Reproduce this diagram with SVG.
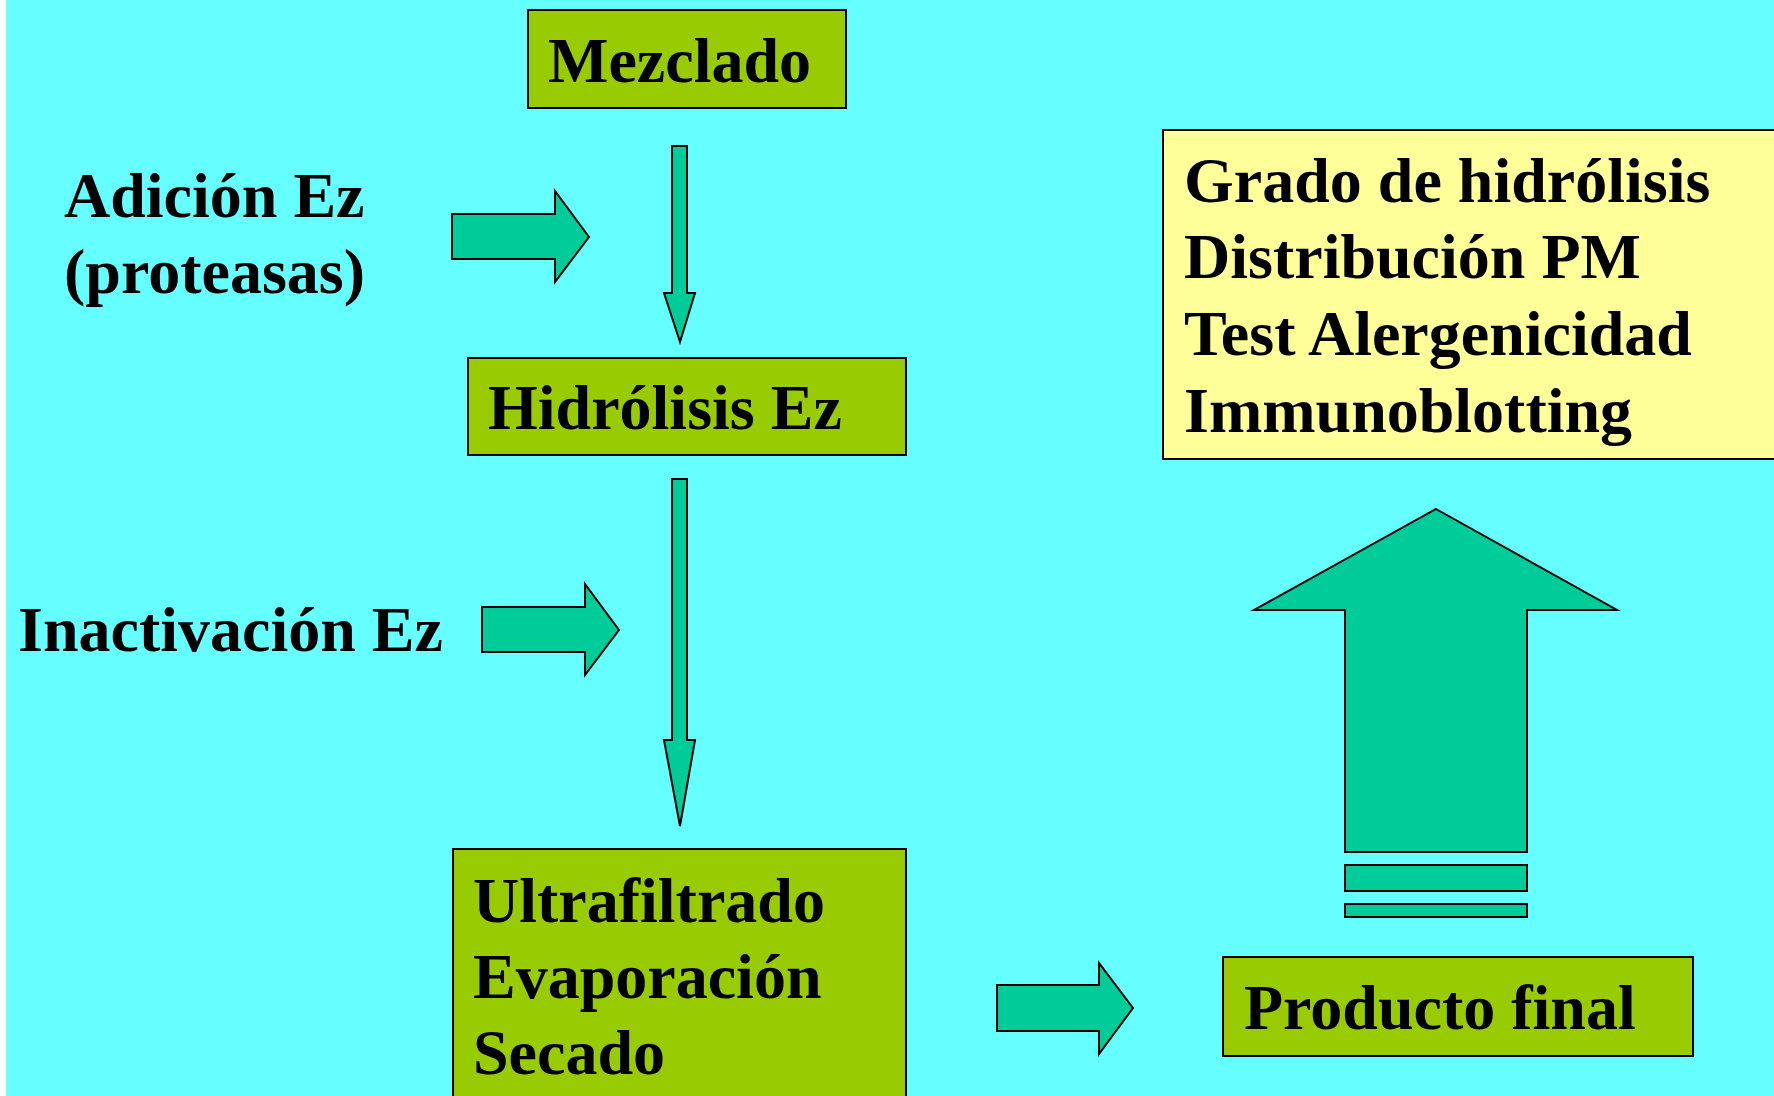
<svg xmlns="http://www.w3.org/2000/svg" width="1774" height="1096" viewBox="0 0 1774 1096">
<style>
.box{fill:#99CC00;stroke:#000;stroke-width:2}
.ybox{fill:#FFFF99;stroke:#000;stroke-width:2}
.arr{fill:#00CC99;stroke:#000;stroke-width:2;stroke-linejoin:miter}
text{font-family:"Liberation Serif","Times New Roman",serif;font-weight:bold;font-size:64px;fill:#000}
</style>
<rect x="0" y="0" width="1774" height="1096" fill="#FFFFFF"/>
<rect x="6" y="0" width="1768" height="1096" fill="#66FFFF"/>
<g id="mezclado">
<rect class="box" x="528" y="10" width="318" height="98"/>
<text x="548" y="82">Mezclado</text>
</g>
<g id="adicion">
<text x="64" y="217">Adición Ez</text>
<text x="64" y="293">(proteasas)</text>
</g>
<g id="hidrolisis">
<rect class="box" x="468" y="358" width="438" height="97"/>
<text x="488" y="429">Hidrólisis Ez</text>
</g>
<g id="inactivacion">
<text x="18" y="651">Inactivación Ez</text>
</g>
<g id="ultrafiltrado">
<rect class="box" x="453" y="849" width="453" height="260"/>
<text x="473" y="922">Ultrafiltrado</text>
<text x="473" y="998">Evaporación</text>
<text x="473" y="1074">Secado</text>
</g>
<g id="producto">
<rect class="box" x="1223" y="957" width="470" height="99"/>
<text x="1244" y="1029">Producto final</text>
</g>
<g id="analisis">
<rect class="ybox" x="1163" y="130" width="625" height="329"/>
<text x="1184" y="202">Grado de hidrólisis</text>
<text x="1184" y="278">Distribución PM</text>
<text x="1184" y="355">Test Alergenicidad</text>
<text x="1184" y="432">Immunoblotting</text>
</g>
<g id="connectors">
<polygon class="arr" points="452,214 555,214 555,191 589,237 555,282 555,259 452,259"/>
<polygon class="arr" points="672,146 687,146 687,293 695,293 680,342 664,293 672,293"/>
<polygon class="arr" points="482,607 585,607 585,584 619,630 585,675 585,652 482,652"/>
<polygon class="arr" points="672,479 687,479 687,740 695,740 680,826 664,740 672,740"/>
<polygon class="arr" points="997,985 1099,985 1099,963 1133,1008 1099,1054 1099,1031 997,1031"/>
<polygon class="arr" points="1436,509 1617,610 1527,610 1527,852 1345,852 1345,610 1254,610"/>
<rect class="arr" x="1345" y="865" width="182" height="26"/>
<rect class="arr" x="1345" y="904" width="182" height="13"/>
</g>
</svg>
